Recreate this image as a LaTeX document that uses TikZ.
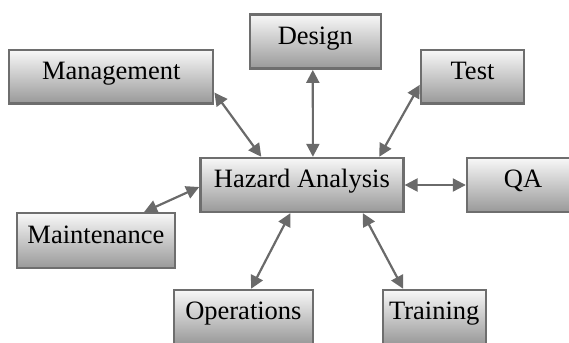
\documentclass[tikz,border=0pt]{standalone}
\usepackage{fontspec}
\setmainfont{Liberation Serif}
\usetikzlibrary{arrows.meta}
\definecolor{edgegray}{HTML}{6E6E6E}
\definecolor{linkgray}{HTML}{6A6A6A}
\tikzset{
  box/.style={draw=edgegray, line width=2.4pt, top color=white!97!black,
    bottom color=black!40, inner sep=0pt, text height=0.75em, text depth=0.18em,
    font=\fontsize{26.5}{30}\selectfont},
  link/.style={draw=linkgray, line width=2.2pt,
    {Triangle[length=13pt,width=13pt]}-{Triangle[length=13pt,width=13pt]}}
}
\begin{document}
\begin{tikzpicture}[x=1pt,y=-1pt]
\useasboundingbox (0,0) rectangle (569,342);
\clip (0,0) rectangle (569,342);
\node[box, minimum width=204pt, minimum height=53pt] (mgmt) at (111.2,76.8) {Management};
\node[box, minimum width=131pt, minimum height=54pt] (design) at (315.3,41.7) {Design};
\node[box, minimum width=103pt, minimum height=53pt] (test) at (472.5,76.8) {Test};
\node[box, minimum width=203pt, minimum height=54pt] (ha) at (301.9,185) {Hazard Analysis};
\node[box, minimum width=112pt, minimum height=54pt] (qa) at (523,185) {QA};
\node[box, minimum width=158pt, minimum height=55pt] (maint) at (95.9,240.7) {Maintenance};
\node[box, minimum width=139pt, minimum height=54pt] (ops) at (243.4,317) {Operations};
\node[box, minimum width=103pt, minimum height=54pt] (train) at (434.2,317) {Training};

\draw[link] ([yshift=12pt]mgmt.south east) -- ([xshift=-40.6pt]ha.north);
\draw[link] ([xshift=-2.5pt]design.south) -- ([xshift=11pt]ha.north);
\draw[link] ([yshift=-8pt]test.west) -- ([xshift=77.3pt]ha.north);
\draw[link] ([xshift=-32pt]maint.north east) -- ([yshift=-2pt]ha.west);
\draw[link] (ha.east) -- (qa.west);
\draw[link] ([xshift=-11.6pt]ha.south) -- ([xshift=7.6pt]ops.north);
\draw[link] ([xshift=61pt]ha.south) -- ([xshift=-31pt]train.north);
\end{tikzpicture}
\end{document}
